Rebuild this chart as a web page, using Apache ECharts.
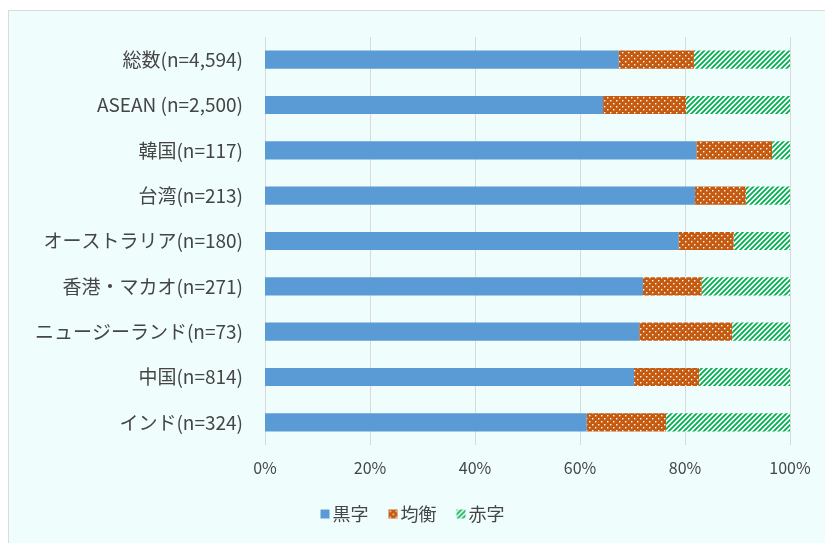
<!DOCTYPE html>
<html>
<head>
<meta charset="utf-8">
<script src="https://cdn.jsdelivr.net/npm/echarts@6/dist/echarts.min.js"></script>
<style>
  html, body { margin: 0; padding: 0; background: #ffffff; }
  #panel {
    position: absolute; left: 8px; top: 10px; width: 830px; height: 540px;
    background: #effdfd; border-top: 1px solid #d9dcdc; border-left: 1px solid #d9dcdc;
  }
  #chart { position: absolute; left: 0; top: 0; width: 825px; height: 543px; }
</style>
</head>
<body>
<div id="panel"></div>
<div id="chart"></div>
<script>
const categories = [
  '総数(n=4,594)', 'ASEAN (n=2,500)', '韓国(n=117)', '台湾(n=213)',
  'オーストラリア(n=180)', '香港・マカオ(n=271)', 'ニュージーランド(n=73)',
  '中国(n=814)', 'インド(n=324)'
]
const surplus = [67.4, 64.4, 82.2, 81.9, 78.8, 72.0, 71.3, 70.3, 61.3]   // 黒字
const balance = [14.3, 15.8, 14.4, 9.7, 10.5, 11.2, 17.7, 12.4, 15.1]    // 均衡
const deficit = [18.3, 19.8, 3.4, 8.4, 10.7, 16.8, 11.0, 17.3, 23.6]     // 赤字
const xTicks = [0, 20, 40, 60, 80, 100]

const font = '"Noto Sans CJK JP", "Noto Sans", sans-serif'
const textColor = '#454545'

// dotted orange pattern
const makeDots = () => {
  const c = document.createElement( 'canvas' )
  c.width = 6
  c.height = 6
  const ctx = c.getContext( '2d' )
  ctx.fillStyle = '#c55a11'
  ctx.fillRect( 0, 0, 6, 6 )
  ctx.fillStyle = '#ffffff'
  ctx.fillRect( 1, 1, 1.4, 1.4 )
  ctx.fillRect( 4, 4, 1.4, 1.4 )
  return c
}

// green diagonal stripes
const makeStripes = () => {
  const c = document.createElement( 'canvas' )
  c.width = 5
  c.height = 5
  const ctx = c.getContext( '2d' )
  ctx.fillStyle = '#ffffff'
  ctx.fillRect( 0, 0, 5, 5 )
  ctx.strokeStyle = '#00b050'
  ctx.lineWidth = 1.8
  ctx.beginPath()
  ctx.moveTo( -1, 6 ); ctx.lineTo( 6, -1 )
  ctx.moveTo( -1, 1 ); ctx.lineTo( 1, -1 )
  ctx.moveTo( 4, 6 ); ctx.lineTo( 6, 4 )
  ctx.stroke()
  return c
}

const chart = echarts.init( document.getElementById( 'chart' ) )
chart.setOption( {
  backgroundColor : 'transparent',
  animation : false,
  textStyle : { fontFamily : font },
  grid : { left : 265, right : 35, top : 37, bottom : 98 },
  legend : {
    bottom : 15,
    left : 'center',
    itemWidth : 9,
    itemHeight : 9,
    itemGap : 20,
    icon : 'rect',
    textStyle : { color : textColor, fontSize : 18, fontFamily : font, padding : [0, 0, 0, -2] },
    data : ['黒字', '均衡', '赤字']
  },
  xAxis : {
    type : 'value',
    min : xTicks[0],
    max : xTicks[xTicks.length - 1],
    interval : 20,
    axisLine : { show : false },
    axisTick : { show : false },
    splitLine : { lineStyle : { color : '#d9d9d9' } },
    axisLabel : { color : textColor, fontSize : 16, margin : 15, formatter : '{value}%' }
  },
  yAxis : {
    type : 'category',
    inverse : true,
    data : categories,
    axisLine : { show : false },
    axisTick : { show : false },
    axisLabel : { color : textColor, fontSize : 19, margin : 22 }
  },
  series : [
    {
      name : '黒字', type : 'bar', stack : 'total', barWidth : '40%',
      itemStyle : { color : '#5b9bd5' },
      data : surplus
    },
    {
      name : '均衡', type : 'bar', stack : 'total', barWidth : '40%',
      itemStyle : { color : { image : makeDots(), repeat : 'repeat' } },
      data : balance
    },
    {
      name : '赤字', type : 'bar', stack : 'total', barWidth : '40%',
      itemStyle : { color : { image : makeStripes(), repeat : 'repeat' } },
      data : deficit
    }
  ]
} )
</script>
</body>
</html>
